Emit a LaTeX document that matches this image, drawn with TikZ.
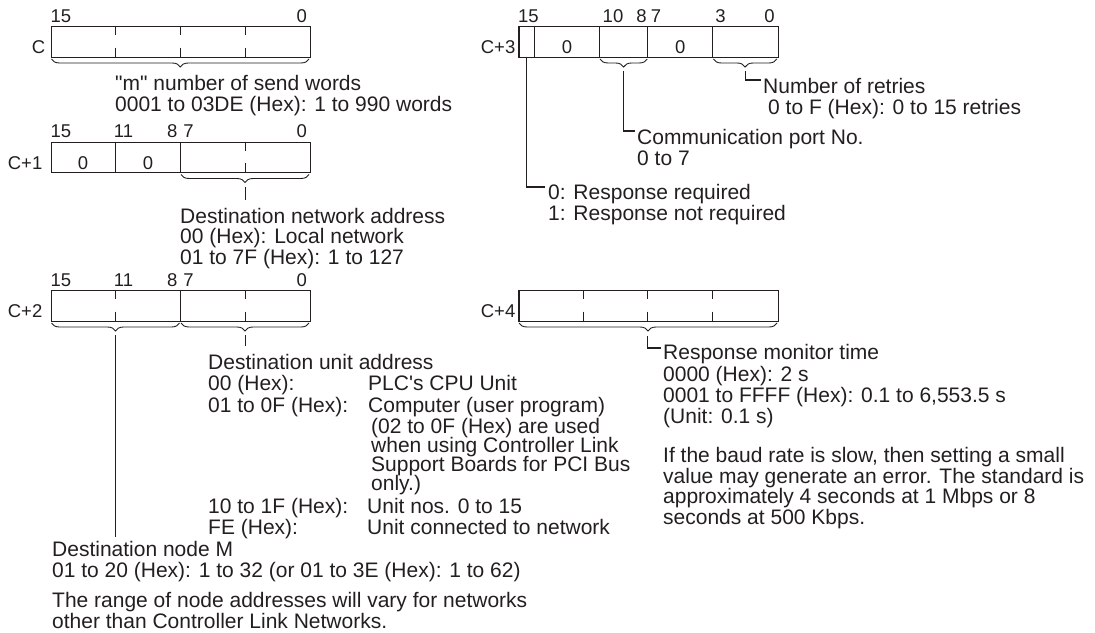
\documentclass[tikz,border=0pt]{standalone}
\usepackage{fontspec}
\setmainfont{Liberation Sans}
\usetikzlibrary{decorations.pathreplacing}
\definecolor{ink}{RGB}{35,31,32}
\begin{document}
\lineskiplimit=-50pt\relax
\begin{tikzpicture}[x=1pt,y=-1pt,
  reg/.style={draw=ink,line width=1.3pt,minimum width=259.2pt,minimum height=30.5pt,anchor=north west,inner sep=0pt},
  div/.style={draw=ink,line width=1.1pt},
  brc/.style={draw=ink,decorate,decoration={brace,mirror,amplitude=8pt},line width=0.9pt},
  lead/.style={draw=ink,line width=1.1pt},
  lab/.style={text=ink,font=\fontsize{18.5}{20}\selectfont,inner sep=0pt,anchor=base},
  txt/.style={text=ink,font=\fontsize{21}{21}\selectfont,inner sep=0pt,anchor=north west,align=left,execute at begin node={\rule{0pt}{16pt}}},
  txtb/.style={txt,font=\fontsize{21}{21.3}\selectfont},
  txts/.style={txt,font=\fontsize{21}{19}\selectfont},
  txtm/.style={txt,font=\fontsize{21}{20.5}\selectfont},
]
\useasboundingbox (0,0) rectangle (1095,632);

% ---------------- C ----------------
\node[reg] (C) at (50.7,26) {};
\node[lab,anchor=base east] (lC) at (45.5,53.5) {C};
\node[lab] (bC15) at (60.8,22) {15};
\node[lab] (bC0) at (301.8,22) {0};
\foreach \x in {115.5,180.3,245.1}{\draw[div] (\x,26) -- (\x,35); \draw[div] (\x,47.5) -- (\x,56.5);}
\draw[brc] (51.5,59) -- (309,59);
\node[txt] (tC) at (115,75) {\textquotedbl m\textquotedbl{} number of send words\\0001 to 03DE (Hex): 1 to 990 words};

% ---------------- C+1 ----------------
\node[reg] (C1) at (50.7,141.5) {};
\node[lab,anchor=base east] (lC1) at (42.5,169) {C+1};
\node[lab] (b1a) at (60.8,137.5) {15};
\node[lab] (b1b) at (123.6,137.5) {11};
\node[lab] (b1c) at (172.2,137.5) {8};
\node[lab] (b1d) at (188.4,137.5) {7};
\node[lab] (b1e) at (301.8,137.5) {0};
\draw[div] (115.5,141.5) -- (115.5,172);
\draw[div] (180.3,141.5) -- (180.3,172);
\draw[div] (245.1,141.5) -- (245.1,150.5); \draw[div] (245.1,163) -- (245.1,172);
\node[lab] (z1a) at (83.1,169) {0};
\node[lab] (z1b) at (147.9,169) {0};
\draw[brc] (181,174.5) -- (309,174.5);
\coordinate (k1s) at (245.1,187);
\coordinate (k1e) at (245.1,200);
\draw[lead] (k1s) -- (k1e);
\node[txtm] (tC1) at (180,208) {Destination network address\\00 (Hex): Local network\\01 to 7F (Hex): 1 to 127};

% ---------------- C+2 ----------------
\node[reg] (C2) at (50.7,290) {};
\node[lab,anchor=base east] (lC2) at (42.5,317.5) {C+2};
\node[lab] (b2a) at (60.8,286) {15};
\node[lab] (b2b) at (123.6,286) {11};
\node[lab] (b2c) at (172.2,286) {8};
\node[lab] (b2d) at (188.4,286) {7};
\node[lab] (b2e) at (301.8,286) {0};
\foreach \x in {115.5,245.1}{\draw[div] (\x,290) -- (\x,299); \draw[div] (\x,311.5) -- (\x,320.5);}
\draw[div] (180.3,290) -- (180.3,320.5);
\draw[brc] (51.5,323) -- (179.5,323);
\draw[brc] (181,323) -- (309,323);
\coordinate (k2s) at (115.5,335);
\coordinate (k2e) at (115.5,537);
\draw[lead] (k2s) -- (k2e);
\coordinate (k3s) at (245.1,335);
\coordinate (k3e) at (245.1,346);
\draw[lead] (k3s) -- (k3e);
\node[txtb] (tU1) at (208,354) {Destination unit address\\00 (Hex):\\01 to 0F (Hex):};
\node[txtb] (tU2) at (368,375.3) {PLC\textquotesingle{}s CPU Unit\\Computer (user program)};
\node[txts] (tU3) at (371,418) {(02 to 0F (Hex) are used\\when using Controller Link\\Support Boards for PCI Bus\\only.)};
\node[txtm] (tU4) at (208,498.5) {10 to 1F (Hex):\\FE (Hex):};
\node[txtm] (tU5) at (367,498.5) {Unit nos. 0 to 15\\Unit connected to network};
\node[txt] (tM) at (52,541.5) {Destination node M\\01 to 20 (Hex): 1 to 32 (or 01 to 3E (Hex): 1 to 62)};
\node[txt] (tR) at (52,592) {The range of node addresses will vary for networks\\other than Controller Link Networks.};

% ---------------- C+3 ----------------
\node[reg] (C3) at (518.3,26) {};
\node[lab,anchor=base east] (lC3) at (515.5,53.5) {C+3};
\node[lab] (b3a) at (528.4,22) {15};
\node[lab] (b3b) at (613,22) {10};
\node[lab] (b3c) at (641.5,22) {8};
\node[lab] (b3d) at (656,22) {7};
\node[lab] (b3e) at (720.4,22) {3};
\node[lab] (b3f) at (769.4,22) {0};
\foreach \x in {534.5,599.3,647.9,712.7}{\draw[div] (\x,26) -- (\x,56.5);}
\node[lab] (z3a) at (566.9,53.5) {0};
\node[lab] (z3b) at (680.3,53.5) {0};
\draw[brc] (600,59) -- (647.2,59);
\draw[brc] (713.4,59) -- (776.8,59);
\coordinate (r1s) at (526.4,56.5);
\coordinate (r1e) at (545,187);
\draw[lead] (r1s) |- (r1e);
\node[txtm] (tR1) at (548,184.5) {0: Response required\\1: Response not required};
\coordinate (r2s) at (623.6,71);
\coordinate (r2e) at (635,131);
\draw[lead] (r2s) |- (r2e);
\node[txt] (tR2) at (637,129.5) {Communication port No.\\0 to 7};
\coordinate (r3s) at (745.1,71);
\coordinate (r3e) at (761,80);
\draw[lead] (r3s) |- (r3e);
\node[txt] (tR3) at (763,78.5) {Number of retries\\\hspace*{5pt}0 to F (Hex): 0 to 15 retries};

% ---------------- C+4 ----------------
\node[reg] (C4) at (518.3,290) {};
\node[lab,anchor=base east] (lC4) at (515.5,317.5) {C+4};
\foreach \x in {583.1,647.9,712.7}{\draw[div] (\x,290) -- (\x,299); \draw[div] (\x,311.5) -- (\x,320.5);}
\draw[brc] (519,323) -- (777,323);
\coordinate (r4s) at (647.9,336);
\coordinate (r4e) at (661,348);
\draw[lead] (r4s) |- (r4e);
\node[txtb] (tT1) at (663,344.5) {Response monitor time\\0000 (Hex): 2 s\\0001 to FFFF (Hex): 0.1 to 6,553.5 s\\(Unit: 0.1 s)};
\node[txtm] (tT2) at (663,447.5) {If the baud rate is slow, then setting a small\\value may generate an error. The standard is\\approximately 4 seconds at 1 Mbps or 8\\seconds at 500 Kbps.};
\end{tikzpicture}
\end{document}
